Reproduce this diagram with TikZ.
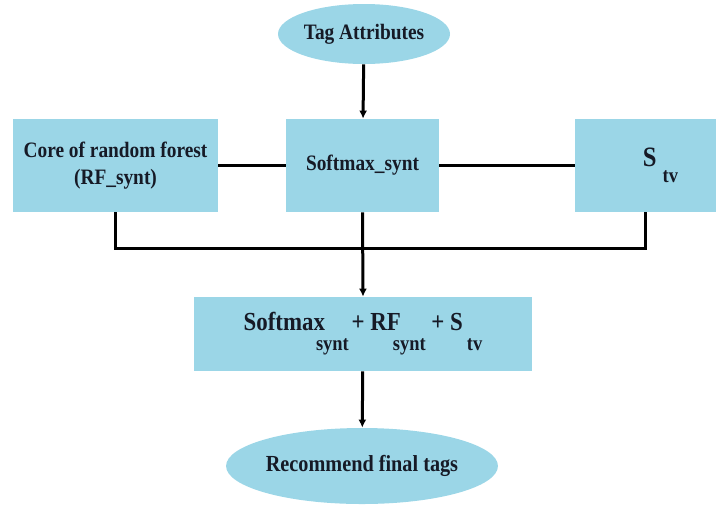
\documentclass[tikz,border=0pt]{standalone}
\usepackage{fontspec}
\setmainfont{Liberation Serif}[BoldFont={Liberation Serif Bold},FakeStretch=0.88]
\usetikzlibrary{shapes.geometric,arrows.meta}
\definecolor{boxblue}{RGB}{155,214,231}
\definecolor{ink}{RGB}{22,26,38}
\newcommand{\lowsub}[2][10pt]{\raisebox{-#1}{\fontsize{10.5}{12}\selectfont #2}}

\begin{document}
\begin{tikzpicture}[x=0.5pt,y=-0.5pt,
  every node/.style={font=\bfseries\fontsize{11}{13.5}\selectfont,text=ink},
  blk/.style={rectangle,fill=boxblue,inner sep=0pt,align=center},
  oval/.style={ellipse,fill=boxblue,inner sep=0pt},
  wire/.style={line width=1.5pt,draw=black},
  arr/.style={wire,-{Latex[length=4pt,width=4pt]}}]
\useasboundingbox (0,0) rectangle (716,504);
\node[oval,minimum width=86pt,minimum height=30pt] (tag) at (364,34) {Tag Attributes};
\node[blk,minimum width=76.5pt,minimum height=46.5pt] (soft) at (362.5,165.5) {Softmax\_synt};
\node[blk,minimum width=102.5pt,minimum height=46.5pt] (core) at (115.5,165.5) {Core of random forest\\(RF\_synt)};
\node[blk,minimum width=70.5pt,minimum height=46.5pt] (stv) at (645.5,165.5)
  {\hspace*{15pt}\fontsize{14}{16}\selectfont S\hspace{3pt}\lowsub[8pt]{tv}};
\node[blk,minimum width=169pt,minimum height=37pt] (sum) at (363,334)
  {\fontsize{13}{15}\selectfont Softmax\hspace{-4.5pt}\lowsub{synt}\hspace{-1.5pt} + RF\hspace{-4pt}\lowsub{synt} + S\hspace{2pt}\lowsub{tv}};
\node[oval,minimum width=125pt,minimum height=38pt,font=\bfseries\fontsize{11.5}{13}\selectfont] (rec) at (362,466) {Recommend final tags};
\coordinate (mid) at (362.5,248);
% connectors
\draw[arr] (tag) -- (soft);
\draw[wire] (core) -- (soft);
\draw[wire] (soft) -- (stv);
\draw[wire] (core.south) -- (core.south |- mid) -- (stv.south |- mid) -- (stv.south);
\draw[arr] (soft.south) -- (sum.north);
\draw[arr] (sum) -- (rec);
\end{tikzpicture}
\end{document}
